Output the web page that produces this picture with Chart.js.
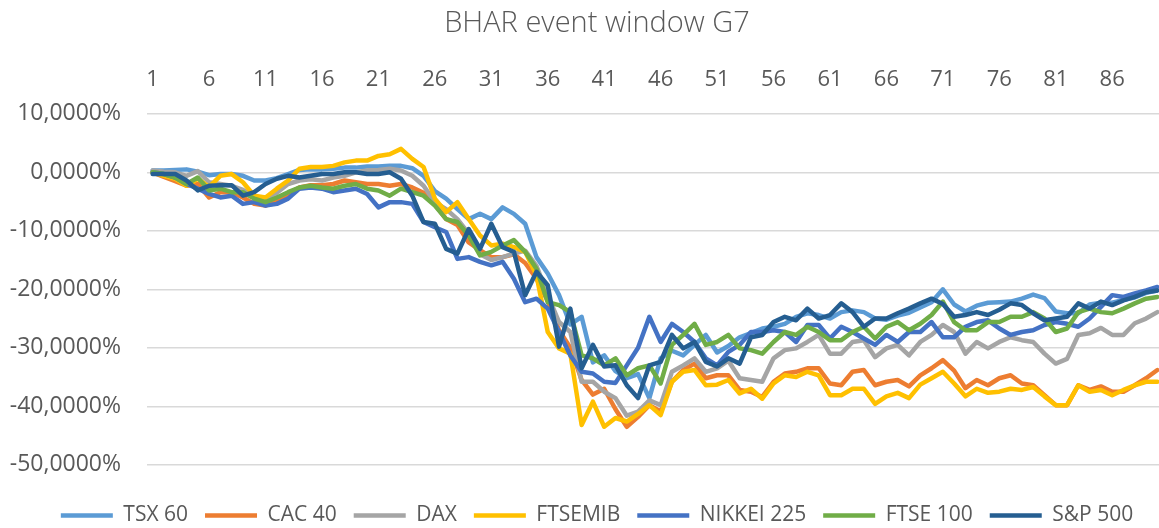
<!DOCTYPE html>
<html>
<head>
<meta charset="utf-8">
<title>BHAR event window G7</title>
<script src="https://cdn.jsdelivr.net/npm/chart.js"></script>
<style>
  html, body { margin: 0; padding: 0; background: #fff; overflow: hidden; }
  #wrap { width: 1188px; height: 536px; }
</style>
</head>
<body>
<div id="wrap"><canvas id="myChart" width="1188" height="536"></canvas></div>
<script>
// event days 1..90
const days = Array.from({ length: 90 }, (_, i) => String(i + 1));

// BHAR in percent
const tsx60 = [
  0.3, 0.3, 0.4, 0.5, 0.1, -0.5, -0.3, -0.3, -0.6, -1.4,
  -1.4, -1.0, -0.3, 0.4, 0.5, 0.5, 0.6, 0.8, 0.8, 1.0,
  1.0, 1.1, 1.1, 0.7, -0.6, -3.2, -4.5, -6.3, -8.0, -7.1,
  -8.0, -6.0, -7.1, -8.8, -14.5, -17.3, -21.0, -26.0, -24.7, -32.5,
  -31.3, -34.0, -35.2, -34.5, -38.6, -31.8, -30.5, -31.3, -29.5, -27.8,
  -30.8, -29.7, -28.2, -27.5, -26.7, -26.4, -25.9, -24.7, -24.1, -24.4,
  -25.0, -23.9, -23.6, -23.9, -25.0, -25.2, -24.5, -24.0, -23.1, -22.2,
  -20.0, -22.6, -23.8, -22.8, -22.3, -22.2, -22.1, -21.6, -20.9, -21.5,
  -23.8, -24.1, -24.1, -22.6, -22.3, -22.3, -21.8, -21.4, -20.6, -20.2
];
const cac40 = [
  0.0, -0.8, -1.5, -2.3, -2.0, -4.3, -3.4, -3.4, -4.3, -5.4,
  -5.7, -4.8, -3.7, -2.6, -2.2, -2.2, -2.0, -1.4, -1.7, -2.0,
  -2.0, -2.3, -2.0, -2.6, -3.5, -5.5, -8.0, -9.0, -12.0, -13.3,
  -14.5, -14.5, -14.0, -15.5, -18.2, -22.0, -27.0, -30.0, -35.5, -38.0,
  -37.0, -40.5, -43.5, -41.8, -39.8, -40.9, -35.8, -33.8, -32.7, -35.2,
  -34.7, -34.7, -37.2, -37.5, -38.4, -35.8, -34.4, -34.1, -33.5, -33.5,
  -36.1, -36.4, -34.1, -33.8, -36.4, -35.8, -35.5, -36.6, -34.7, -33.5,
  -32.1, -33.9, -36.9, -35.5, -36.4, -35.2, -34.7, -36.1, -36.4, -38.1,
  -39.8, -39.8, -36.4, -37.2, -36.6, -37.5, -37.5, -36.4, -35.2, -33.8
];
const dax = [
  0.3, 0.1, 0.0, -0.6, 0.2, -1.7, -2.0, -2.3, -3.0, -4.2,
  -4.5, -3.5, -2.0, -1.4, -1.2, -1.4, -0.9, -0.6, 0.0, 0.3,
  0.4, 0.6, 0.3, -0.6, -2.3, -5.1, -6.3, -8.0, -10.5, -14.0,
  -15.0, -14.5, -13.9, -13.4, -16.0, -21.0, -25.6, -27.3, -35.8, -35.8,
  -37.5, -38.6, -41.6, -40.9, -39.0, -39.8, -34.1, -33.0, -31.8, -34.1,
  -33.5, -32.2, -35.2, -35.5, -35.8, -31.8, -30.4, -30.1, -29.0, -27.8,
  -31.0, -31.0, -29.0, -28.7, -31.6, -30.1, -29.5, -31.3, -29.0, -27.8,
  -26.1, -27.3, -31.0, -29.0, -30.1, -29.0, -28.2, -28.7, -29.0, -31.0,
  -32.7, -31.9, -27.8, -27.5, -26.6, -27.8, -27.8, -25.8, -25.0, -23.9
];
const ftsemib = [
  0.0, -0.6, -1.1, -2.3, -1.1, -2.5, -0.6, -0.3, -1.7, -4.0,
  -4.3, -2.8, -1.4, 0.6, 0.9, 0.9, 1.1, 1.7, 2.0, 2.0,
  2.8, 3.1, 4.0, 2.3, 0.9, -4.5, -6.8, -5.1, -8.0, -10.8,
  -12.5, -12.2, -12.8, -13.6, -17.6, -27.3, -30.1, -31.0, -43.2, -39.2,
  -43.5, -42.0, -42.6, -41.3, -39.8, -41.5, -35.8, -34.1, -33.8, -36.4,
  -36.3, -35.5, -37.8, -37.0, -38.7, -36.1, -34.7, -35.0, -34.1, -34.7,
  -38.1, -38.1, -37.0, -37.0, -39.6, -38.3, -37.7, -38.6, -36.3, -35.2,
  -34.1, -36.1, -38.3, -37.0, -37.7, -37.5, -37.0, -37.2, -36.7, -38.3,
  -39.8, -39.8, -36.4, -37.5, -37.2, -38.1, -37.2, -36.4, -35.8, -35.8
];
const nikkei225 = [
  0.0, -0.3, -0.9, -2.0, -2.8, -3.7, -4.3, -4.0, -5.4, -5.1,
  -5.7, -5.4, -4.5, -2.8, -2.6, -2.8, -3.4, -3.1, -2.8, -3.7,
  -6.0, -5.1, -5.1, -5.4, -8.5, -9.4, -10.2, -14.8, -14.5, -15.3,
  -15.9, -15.3, -18.2, -22.2, -21.6, -23.3, -27.3, -31.3, -34.1, -34.4,
  -35.8, -36.0, -33.0, -30.0, -24.7, -29.0, -25.9, -27.3, -29.0, -31.8,
  -33.0, -30.7, -29.5, -27.3, -27.3, -27.0, -27.3, -29.0, -26.1, -26.1,
  -28.4, -26.4, -27.3, -28.4, -29.5, -27.8, -29.0, -27.3, -27.3, -25.6,
  -28.2, -28.2, -26.4, -25.6, -25.3, -26.7, -27.8, -27.3, -27.0, -26.1,
  -25.6, -25.9, -26.4, -25.0, -23.0, -21.0, -21.3, -20.7, -20.2, -19.6
];
const ftse100 = [
  0.0, -0.3, -0.9, -2.0, -0.9, -3.1, -2.8, -3.4, -3.4, -4.5,
  -5.1, -4.3, -3.4, -2.6, -2.3, -2.6, -2.8, -2.3, -2.0, -2.8,
  -3.1, -4.0, -2.8, -3.4, -4.0, -5.7, -8.0, -8.5, -10.8, -14.2,
  -13.6, -12.5, -11.6, -13.6, -16.5, -22.2, -22.7, -23.9, -31.3, -31.8,
  -33.0, -31.8, -34.7, -33.5, -33.0, -36.1, -29.5, -27.8, -25.9, -29.5,
  -29.0, -27.8, -30.1, -30.4, -31.0, -29.0, -27.3, -27.8, -26.4, -27.3,
  -28.7, -28.7, -27.3, -26.4, -28.4, -26.4, -25.6, -27.0, -25.9, -24.4,
  -22.1, -25.6, -27.0, -27.0, -25.6, -25.6, -24.7, -24.7, -23.9, -25.0,
  -27.3, -26.7, -23.9, -23.3, -23.9, -24.1, -23.3, -22.4, -21.6, -21.3
];
const sp500 = [
  -0.3, -0.3, -0.3, -1.4, -3.1, -2.3, -2.2, -2.2, -4.0, -3.4,
  -2.0, -1.1, -0.6, -0.9, -0.6, -0.3, -0.3, 0.0, 0.0, -0.3,
  -0.3, 0.0, -1.1, -4.0, -8.5, -8.8, -13.1, -13.9, -9.7, -13.1,
  -8.8, -12.8, -13.6, -21.0, -17.0, -19.3, -29.8, -23.3, -33.5, -29.5,
  -33.2, -33.0, -36.4, -38.6, -33.0, -32.4, -27.8, -30.1, -29.0, -32.4,
  -33.2, -31.8, -32.7, -28.2, -27.8, -25.6, -24.7, -25.3, -23.3, -25.0,
  -24.4, -22.4, -23.9, -26.4, -25.0, -25.0, -24.1, -23.3, -22.4, -21.6,
  -22.5, -24.7, -24.4, -23.9, -24.4, -23.5, -22.4, -22.7, -24.1, -25.3,
  -25.0, -24.7, -22.4, -23.3, -22.1, -22.7, -21.9, -21.3, -20.5, -20.2
];

const seriesNames = ['TSX 60', 'CAC 40', 'DAX', 'FTSEMIB', 'NIKKEI 225', 'FTSE 100', 'S&P 500'];
const seriesData = [tsx60, cac40, dax, ftsemib, nikkei225, ftse100, sp500];
const seriesColors = ['#5B9BD5', '#ED7D31', '#A5A5A5', '#FFC000', '#4472C4', '#70AD47', '#255E91'];

const yMin = -50;
const yMax = 10;
const yStep = 10;
const xLabelEvery = 5;

const FONT = '"Open Sans", "Liberation Sans", sans-serif';
const TEXT = '#595959';

const fmtPct = (v) => v.toFixed(4).replace('.', ',') + '%';

const renderChart = () => {
  const datasets = seriesNames.map((name, i) => ({
    label: name,
    data: seriesData[i],
    borderColor: seriesColors[i],
    backgroundColor: seriesColors[i],
    borderWidth: 4.5,
    pointRadius: 0,
    pointHoverRadius: 0,
    tension: 0,
    borderCapStyle: 'round',
    borderJoinStyle: 'round',
    fill: false,
    // last series (S&P 500) on top, like Excel
    order: seriesNames.length - 1 - i
  }));

  const ctx = document.getElementById('myChart').getContext('2d');
  new Chart(ctx, {
    type: 'line',
    data: { labels: days, datasets: datasets },
    options: {
      responsive: false,
      animation: false,
      devicePixelRatio: 1,
      layout: { padding: { top: 0, left: 6, right: 0, bottom: 0 } },
      plugins: {
        title: {
          display: true,
          text: 'BHAR event window G7',
          color: TEXT,
          font: { family: FONT, size: 29, weight: '300' },
          padding: { top: 6, bottom: 2 }
        },
        legend: {
          position: 'bottom',
          // empty legend title only makes room above the items
          title: { display: true, text: '', font: { size: 1 }, padding: { top: 22, bottom: 0 } },
          labels: {
            usePointStyle: true,
            pointStyle: 'line',
            pointStyleWidth: 52,
            color: TEXT,
            font: { family: FONT, size: 21 },
            padding: 17,
            sort: (a, b) => a.datasetIndex - b.datasetIndex
          }
        },
        tooltip: { enabled: false }
      },
      scales: {
        x: {
          position: 'top',
          offset: true,
          grid: { display: false, drawTicks: false },
          border: { display: false },
          afterFit: (scale) => { scale.height = 71; },
          ticks: {
            autoSkip: false,
            maxRotation: 0,
            padding: 21,
            color: TEXT,
            font: { family: FONT, size: 22 },
            callback: (val, idx) => (idx % xLabelEvery === 0 ? days[idx] : '')
          }
        },
        y: {
          min: yMin,
          max: yMax,
          grid: { color: '#D9D9D9', lineWidth: 1.5, drawTicks: false },
          border: { display: false },
          afterFit: (scale) => { scale.width = 141; },
          ticks: {
            stepSize: yStep,
            padding: 26,
            color: TEXT,
            font: { family: FONT, size: 23 },
            callback: (v) => fmtPct(v)
          }
        },
        // empty right margin inside the layout, so title and legend stay centred on the full width
        pad: {
          type: 'linear',
          position: 'right',
          display: true,
          grid: { display: false, drawTicks: false },
          border: { display: false },
          ticks: { display: false },
          afterFit: (scale) => { scale.width = 25; }
        }
      }
    }
  });
};

renderChart();
</script>
</body>
</html>
